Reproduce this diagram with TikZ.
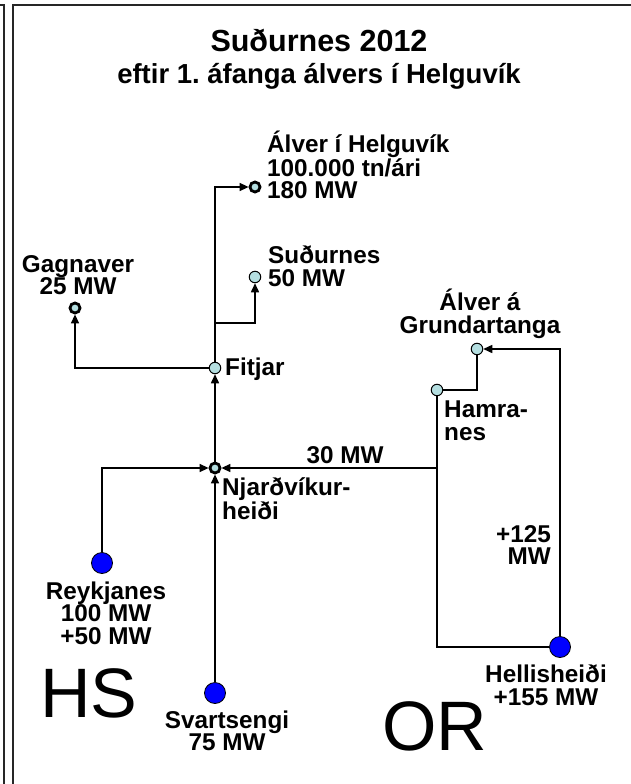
\documentclass[tikz,border=0pt]{standalone}
\usepackage{fontspec}
\setmainfont{Liberation Sans}
\usetikzlibrary{arrows.meta}
\frenchspacing
\definecolor{nodecyan}{HTML}{B4DEE0}
\definecolor{plantblue}{HTML}{0000FF}
\tikzset{
  lbl/.style={font=\bfseries\fontsize{24.3}{22.5}\selectfont, inner sep=0pt, align=center},
  ttl/.style={font=\bfseries\fontsize{27.5}{32}\selectfont, inner sep=0pt, align=center},
  big/.style={font=\fontsize{70}{70}\selectfont, inner sep=0pt},
  subthick/.style={circle, draw=black, line width=2.8pt, fill=nodecyan, minimum size=10pt, inner sep=0pt},
  subthin/.style={circle, draw=black, line width=1pt, fill=nodecyan, minimum size=11.5pt, inner sep=0pt},
  plant/.style={circle, draw=black, line width=0.8pt, fill=plantblue, minimum size=21pt, inner sep=0pt},
  wire/.style={line width=1.5pt, draw=black},
  heavy/.style={line width=2.8pt, draw=black},
  conn/.style={wire, -{Triangle[length=9pt,width=8pt]}},
  frame/.style={line width=1.6pt, draw=black!85}
}
\begin{document}
\begin{tikzpicture}[x=1pt,y=-1pt]
\useasboundingbox (0,0) rectangle (631,784);
% frame
\draw[frame] (0,5) -- (4,5) -- (4,784);
\draw[frame] (631,5) -- (13,5) -- (13,784);
% title
\node[ttl] (title) at (319,59) {{\fontsize{30.5}{32}\selectfont Suðurnes 2012}\\eftir 1. áfanga álvers í Helguvík};
% substations
\node[subthick] (hel) at (255,187) {};
\node[subthin] (sud) at (255,277) {};
\node[subthick] (gag) at (75,308) {};
\node[subthin] (fit) at (215,368) {};
\node[subthick] (nja) at (215,468) {};
\node[subthin] (ham) at (437,390) {};
\node[subthin] (gru) at (477,349) {};
% plants
\node[plant] (rey) at (102,563) {};
\node[plant] (sva) at (215,693) {};
\node[plant] (hls) at (560,647) {};
% junctions
\coordinate (br) at (215,323);
\coordinate (jn) at (437,468);
% connectors
\draw[conn] (fit) |- (hel);
\draw[conn] (br) -| (sud);
\draw[conn] (fit) -| (gag);
\draw[conn] (nja) -- (fit);
\draw[conn] (rey) |- (nja);
\draw[conn] (sva) -- (nja);
\draw[heavy] (hls.west) -| (jn);
\draw[wire] (jn) -- (ham);
\draw[conn] (jn) -- (nja);
\draw[wire] (ham) -| (gru);
\draw[conn] (hls) |- (gru);
% labels
\node[lbl, anchor=west, align=left] (helL) at (267,165) {Álver í Helguvík\\100.000 tn/ári\\180 MW};
\node[lbl, anchor=west, align=left] (sudL) at (268,266) {Suðurnes\\50 MW};
\node[lbl] (gagL) at (78,275) {Gagnaver\\25 MW};
\node[lbl, anchor=west] (fitL) at (225,369) {Fitjar};
\node[lbl, anchor=west, align=left] (njaL) at (222,499) {Njarðvíkur-\\heiði};
\node[lbl] (reyL) at (106,613) {Reykjanes\\100 MW\\+50 MW};
\node[lbl] (svaL) at (227,731) {Svartsengi\\75 MW};
\node[lbl] (hlsL) at (546,685) {Hellisheiði\\+155 MW};
\node[lbl, anchor=west, align=left] (hamL) at (444,421) {Hamra-\\nes};
\node[lbl] (gruL) at (480,314) {Álver á\\Grundartanga};
\node[lbl] (mw30) at (345,455) {30 MW};
\node[lbl, anchor=east, align=right] (mw125) at (551,545) {+125\\MW};
\node[big] (hs) at (89,693) {HS};
\node[big] (or) at (435,726) {OR};
\end{tikzpicture}
\end{document}
